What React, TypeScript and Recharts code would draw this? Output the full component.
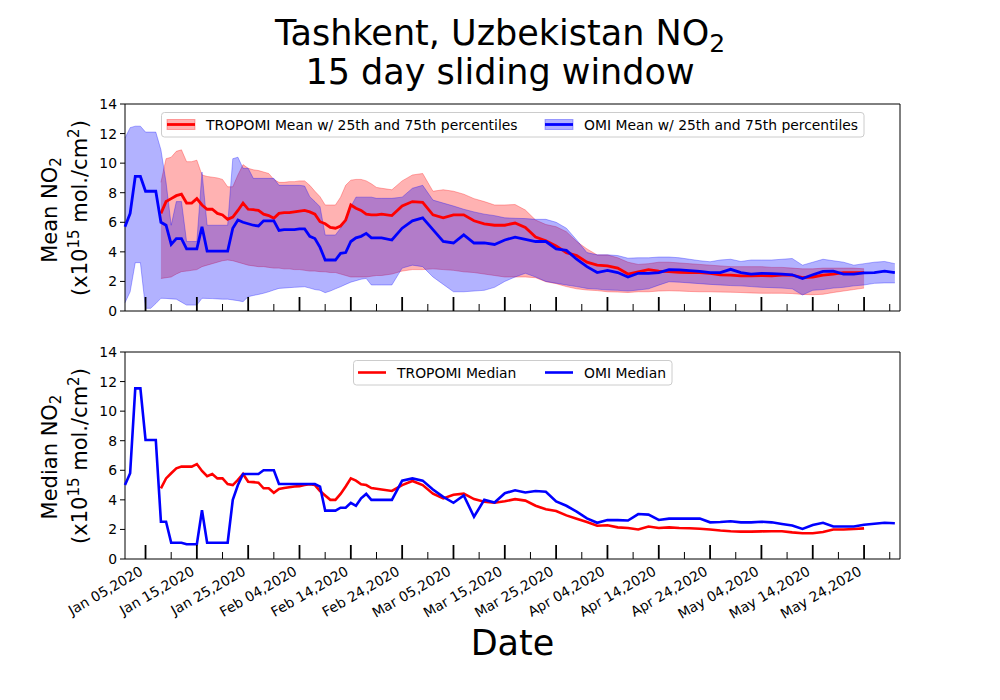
import React from 'react'
import { ComposedChart, Area, Line, XAxis, YAxis, ReferenceArea } from 'recharts'

const FONT = "'DejaVu Sans', sans-serif"

// day index, 0 = Jan 01 2020 (daily up to day 50, then every second day)
const days = [
  0, 1, 2, 3, 4, 5, 6, 7, 8, 9, 10, 11, 12, 13, 14, 15, 16, 17, 18, 19, 20, 21, 22, 23, 24, 25,
  26, 27, 28, 29, 30, 31, 32, 33, 34, 35, 36, 37, 38, 39, 40, 41, 42, 43, 44, 45, 46, 47, 48, 49, 50,
  52, 54, 56, 58, 60, 62, 64, 66, 68, 70, 72, 74, 76, 78, 80, 82, 84, 86, 88, 90, 92, 94, 96, 98,
  100, 102, 104, 106, 108, 110, 112, 114, 116, 118, 120, 122, 124, 126, 128, 130, 132, 134, 136,
  138, 140, 142, 144, 146, 148, 150,
]

const majorDays = [4, 14, 24, 34, 44, 54, 64, 74, 84, 94, 104, 114, 124, 134, 144]
const minorDays = [9, 19, 29, 39, 49, 59, 69, 79, 89, 99, 109, 119, 129, 139, 149]
const tickLabels = [
  'Jan 05,2020', 'Jan 15,2020', 'Jan 25,2020', 'Feb 04,2020', 'Feb 14,2020', 'Feb 24,2020',
  'Mar 05,2020', 'Mar 15,2020', 'Mar 25,2020', 'Apr 04,2020', 'Apr 14,2020', 'Apr 24,2020',
  'May 04,2020', 'May 14,2020', 'May 24,2020',
]
const yTicks = [0, 2, 4, 6, 8, 10, 12, 14]

const _ = null

const omiMean = [
  5.7, 6.6, 9.1, 9.1, 8.1, 8.1, 8.1, 6.0, 5.8, 4.5,
  4.9, 4.9, 4.2, 4.2, 4.2, 5.7, 4.05, 4.05, 4.05, 4.05,
  4.05, 5.6, 6.15, 6.0, 5.9, 5.8, 5.75, 6.1, 6.1, 6.1,
  5.45, 5.5, 5.5, 5.5, 5.55, 5.55, 5.05, 4.9, 4.3, 3.45,
  3.45, 3.45, 3.9, 3.95, 4.7, 4.95, 5.05, 5.25, 4.95, 4.95, 4.95,
  4.8, 5.6, 6.1, 6.3, 5.5, 4.7, 4.6, 5.15, 4.6, 4.6,
  4.5, 4.8, 5.0, 4.85, 4.7, 4.7, 4.2, 4.1, 3.5, 3.0,
  2.6, 2.75, 2.6, 2.3, 2.55, 2.55, 2.6, 2.8, 2.78, 2.73,
  2.68, 2.6, 2.6, 2.82, 2.6, 2.5, 2.55, 2.53, 2.5, 2.45,
  2.2, 2.45, 2.68, 2.7, 2.5, 2.5, 2.58, 2.6, 2.7, 2.6,
]
const omiLow = [
  0.56, 1.3, 3.27, 3.27, 0.18, 0.18, 0.5, 0.86, 0.85, 0.82,
  0.8, 0.6, 0.4, 0.4, 0.4, 0.86, 0.85, 0.84, 0.82, 0.8,
  0.8, 0.75, 0.7, 0.63, 0.97, 1.05, 1.12, 1.2, 1.3, 1.42,
  1.53, 1.55, 1.58, 1.6, 1.62, 1.64, 1.55, 1.45, 1.4, 1.24,
  1.35, 1.5, 1.64, 1.8, 1.95, 2.05, 2.15, 2.2, 1.76, 1.76, 1.76,
  1.76, 2.9, 3.1, 3.0, 2.3, 1.8, 1.3, 1.3, 1.35, 1.4,
  1.6, 2.0, 2.3, 2.55, 2.3, 2.0, 1.88, 1.76, 1.65, 1.53,
  1.48, 1.42, 1.4, 1.35, 1.42, 1.5, 1.75, 1.98, 1.95, 1.9,
  1.85, 1.8, 1.76, 1.72, 1.7, 1.65, 1.6, 1.58, 1.55, 1.5,
  1.08, 1.4, 1.45, 1.55, 1.6, 1.7, 1.76, 1.87, 1.9, 1.9,
]
const omiHigh = [
  11.7, 12.4, 12.5, 12.5, 12.1, 12.1, 12.1, 10.9, 8.7, 5.8,
  7.4, 7.4, 4.7, 4.7, 4.7, 9.4, 5.8, 5.8, 5.8, 5.8,
  5.8, 10.3, 10.4, 9.65, 9.65, 8.97, 8.97, 8.97, 8.97, 8.97,
  8.5, 8.5, 8.5, 8.5, 8.5, 8.45, 7.73, 7.4, 7.05, 5.14,
  5.14, 5.14, 5.6, 6.3, 7.05, 7.7, 7.7, 7.7, 7.7, 7.62, 7.62,
  7.62, 7.7, 8.3, 8.5, 7.5, 7.3, 7.1, 6.88, 6.7, 6.55,
  6.45, 6.3, 6.27, 6.25, 6.2, 6.2, 6.0, 5.6, 4.8, 3.95,
  3.8, 3.8, 3.75, 3.57, 3.6, 3.6, 3.65, 3.65, 3.6, 3.5,
  3.4, 3.33, 3.45, 3.5, 3.35, 3.45, 3.45, 3.45, 3.5, 3.55,
  3.1, 3.3, 3.5, 3.4, 3.3, 3.1, 3.2, 3.3, 3.35, 3.2,
]

const tropMean = [
  _, _, _, _, _, _, _, 6.6, 7.4, 7.6,
  7.8, 7.9, 7.3, 7.3, 7.6, 7.17, 6.88, 6.88, 6.6, 6.5,
  6.2, 6.35, 6.8, 7.3, 6.88, 6.85, 6.8, 6.55, 6.45, 6.27,
  6.6, 6.65, 6.65, 6.7, 6.75, 6.8, 6.7, 6.55, 6.04, 5.9,
  5.65, 5.6, 5.75, 6.15, 7.17, 6.95, 6.8, 6.55, 6.5, 6.5, 6.55,
  6.45, 7.1, 7.4, 7.35, 6.5, 6.3, 6.5, 6.5, 6.1, 5.9,
  5.8, 5.8, 5.95, 5.65, 5.0, 4.75, 4.4, 3.95, 3.75, 3.3,
  3.1, 3.05, 2.9, 2.5, 2.65, 2.8, 2.7, 2.66, 2.62, 2.6,
  2.6, 2.55, 2.45, 2.43, 2.37, 2.37, 2.4, 2.37, 2.43, 2.43,
  2.26, 2.3, 2.43, 2.5, 2.6, 2.6, 2.6, _, _, _,
]
const tropLow = [
  _, _, _, _, _, _, _, 2.2, 2.25, 2.3,
  2.5, 2.66, 2.7, 2.75, 2.8, 3.0, 3.1, 3.2, 3.3, 3.4,
  3.45, 3.4, 3.3, 3.2, 3.1, 3.05, 3.0, 3.0, 2.95, 2.9,
  2.9, 2.85, 2.85, 2.8, 2.8, 2.75, 2.7, 2.7, 2.66, 2.65,
  2.6, 2.6, 2.5, 2.4, 2.3, 2.3, 2.3, 2.3, 2.35, 2.4, 2.4,
  2.5, 2.7, 2.8, 2.8, 2.85, 2.8, 2.75, 2.65, 2.6, 2.5,
  2.4, 2.3, 2.3, 2.3, 2.25, 1.98, 1.85, 1.65, 1.5, 1.42,
  1.38, 1.3, 1.28, 1.25, 1.3, 1.3, 1.35, 1.37, 1.35, 1.32,
  1.3, 1.3, 1.28, 1.27, 1.25, 1.22, 1.2, 1.2, 1.2, 1.18,
  1.12, 1.1, 1.13, 1.25, 1.35, 1.45, 1.55, _, _, _,
]
const tropHigh = [
  _, _, _, _, _, _, _, 8.7, 10.3, 10.4,
  10.8, 10.9, 10.1, 10.1, 10.2, 9.2, 9.1, 9.05, 9.0, 8.9,
  8.4, 8.4, 9.2, 9.9, 9.65, 9.55, 9.5, 9.4, 9.3, 8.9,
  8.7, 8.7, 8.75, 8.75, 8.8, 8.8, 8.5, 8.1, 7.73, 7.17,
  7.17, 7.17, 7.7, 8.5, 8.85, 8.9, 8.9, 8.8, 8.6, 8.36, 8.3,
  8.2, 8.8, 9.2, 9.3, 8.1, 8.2, 8.1, 7.9, 7.6, 7.4,
  7.17, 7.17, 7.2, 6.83, 6.15, 5.85, 5.7, 5.36, 4.7, 4.2,
  3.79, 3.79, 3.6, 3.3, 3.15, 3.2, 3.3, 3.3, 3.25, 3.2,
  3.15, 3.1, 3.05, 3.0, 3.0, 3.0, 3.0, 2.95, 2.95, 2.9,
  2.85, 2.85, 2.9, 2.9, 2.9, 2.9, 2.85, _, _, _,
]

const tropMedian = [
  _, _, _, _, _, _, _, 4.78, 5.45, 5.8,
  6.13, 6.25, 6.25, 6.25, 6.42, 5.95, 5.6, 5.75, 5.45, 5.45,
  5.07, 5.0, 5.35, 5.75, 5.23, 5.2, 5.16, 4.78, 4.78, 4.48,
  4.73, 4.8, 4.85, 4.9, 4.93, 5.0, 5.05, 5.0, 4.6, 4.3,
  4.0, 4.0, 4.4, 4.9, 5.45, 5.3, 5.05, 5.0, 4.8, 4.75, 4.7,
  4.6, 5.0, 5.28, 5.0, 4.42, 4.1, 4.35, 4.42, 4.05, 3.87,
  3.8, 3.9, 4.05, 3.95, 3.6, 3.36, 3.25, 2.95, 2.72, 2.5,
  2.25, 2.28, 2.14, 2.1, 2.0, 2.2, 2.1, 2.14, 2.1, 2.08,
  2.05, 2.0, 1.93, 1.88, 1.85, 1.85, 1.87, 1.88, 1.88, 1.8,
  1.74, 1.74, 1.82, 2.0, 2.0, 2.03, 2.07, _, _, _,
]
const omiMedian = [
  5.0, 5.8, 11.54, 11.54, 8.05, 8.05, 8.05, 2.52, 2.52, 1.1,
  1.1, 1.1, 1.0, 1.0, 1.0, 3.3, 1.1, 1.1, 1.1, 1.1,
  1.1, 4.0, 5.0, 5.75, 5.75, 5.75, 5.75, 6.0, 6.0, 6.0,
  5.07, 5.07, 5.07, 5.07, 5.07, 5.07, 5.07, 5.07, 4.9, 3.27,
  3.27, 3.27, 3.47, 3.47, 3.8, 3.6, 4.1, 4.4, 4.0, 4.0, 4.0,
  4.0, 5.3, 5.45, 5.3, 4.7, 4.2, 3.8, 4.3, 2.86, 4.0,
  3.82, 4.45, 4.65, 4.5, 4.6, 4.55, 3.9, 3.6, 3.2, 2.75,
  2.45, 2.63, 2.63, 2.6, 3.04, 3.0, 2.64, 2.73, 2.73, 2.73,
  2.73, 2.48, 2.5, 2.55, 2.48, 2.48, 2.52, 2.48, 2.37, 2.27,
  2.03, 2.3, 2.45, 2.2, 2.2, 2.2, 2.32, 2.38, 2.45, 2.42,
]

const meanData = days.map((d, i) => ({
  d,
  tropBand: tropLow[i] == null ? null : [tropLow[i], tropHigh[i]],
  omiBand: [omiLow[i], omiHigh[i]],
  tropMean: tropMean[i],
  omiMean: omiMean[i],
}))

const medianData = days.map((d, i) => ({
  d,
  tropMedian: tropMedian[i],
  omiMedian: omiMedian[i],
}))

const xTicks = [...majorDays, ...minorDays].sort((a, b) => a - b)

// matplotlib style: x ticks point into the plot, labels rotated 30deg
function XTick(props: any) {
  const { x, y, payload, showLabel } = props
  const idx = majorDays.indexOf(payload.value)
  const major = idx >= 0
  const ax = x - 1.5
  const ay = y + 15
  return (
    <g>
      <line
        x1={x}
        x2={x}
        y1={y}
        y2={y - (major ? 14 : 7)}
        stroke="#000"
        strokeWidth={major ? 1.8 : 1}
      />
      {showLabel && major && (
        <text
          x={ax}
          y={ay}
          textAnchor="end"
          transform={`rotate(-30 ${ax} ${ay})`}
          fontSize={13.9}
          fontFamily={FONT}
          fill="#000"
        >
          {tickLabels[idx]}
        </text>
      )}
    </g>
  )
}

const yAxisProps = {
  type: 'number' as const,
  domain: [0, 14],
  ticks: yTicks,
  interval: 0 as const,
  width: 40,
  axisLine: false,
  tickSize: 5,
  tickMargin: 3,
  tickLine: { stroke: '#000' },
  tick: { fill: '#000', fontSize: 13.9, fontFamily: FONT },
}

function UnitLabel({ x, y }: { x: number; y: number }) {
  const sup = { fontSize: 15 }
  return (
    <text x={x} y={y} transform={`rotate(-90 ${x} ${y})`} textAnchor="middle" fontSize={21}>
      (x10<tspan dy={-8} {...sup}>15</tspan>
      <tspan dy={8}> mol./cm</tspan>
      <tspan dy={-8} {...sup}>2</tspan>
      <tspan dy={8}>)</tspan>
    </text>
  )
}

function Overlay() {
  const sub = { fontSize: 15 }
  return (
    <svg
      width={1000}
      height={700}
      style={{ position: 'absolute', left: 0, top: 0, pointerEvents: 'none' }}
      fontFamily={FONT}
    >
      <text x={500} y={45} textAnchor="middle" fontSize={35}>
        Tashkent, Uzbekistan NO<tspan fontSize={25} dy={7}>2</tspan>
      </text>
      <text x={500} y={84} textAnchor="middle" fontSize={35}>
        15 day sliding window
      </text>

      <text x={57} y={210} transform="rotate(-90 57 210)" textAnchor="middle" fontSize={21}>
        Mean NO<tspan dy={4} {...sub}>2</tspan>
      </text>
      <UnitLabel x={87} y={208} />
      <text x={57} y={457} transform="rotate(-90 57 457)" textAnchor="middle" fontSize={21}>
        Median NO<tspan dy={4} {...sub}>2</tspan>
      </text>
      <UnitLabel x={87} y={456} />

      <text x={512.5} y={655} textAnchor="middle" fontSize={35}>
        Date
      </text>

      {/* mean panel legend */}
      <rect x={161.5} y={112.5} width={702.5} height={24.5} rx={3} fill="#fff" fillOpacity={0.8} stroke="#cccccc" />
      <rect x={167} y={119.5} width={28} height={10} fill="red" fillOpacity={0.3} stroke="red" strokeOpacity={0.3} />
      <line x1={167} x2={195} y1={124.5} y2={124.5} stroke="red" strokeWidth={2.8} />
      <text x={206} y={129.5} fontSize={13.9}>TROPOMI Mean w/ 25th and 75th percentiles</text>
      <rect x={545} y={119.5} width={28} height={10} fill="blue" fillOpacity={0.3} stroke="blue" strokeOpacity={0.3} />
      <line x1={545} x2={573} y1={124.5} y2={124.5} stroke="blue" strokeWidth={2.8} />
      <text x={584} y={129.5} fontSize={13.9}>OMI Mean w/ 25th and 75th percentiles</text>

      {/* median panel legend */}
      <rect x={353.5} y={360.5} width={318.5} height={24.5} rx={3} fill="#fff" fillOpacity={0.8} stroke="#cccccc" />
      <line x1={358} x2={386} y1={372.5} y2={372.5} stroke="red" strokeWidth={2.6} />
      <text x={397} y={377.5} fontSize={13.9}>TROPOMI Median</text>
      <line x1={545} x2={573} y1={372.5} y2={372.5} stroke="blue" strokeWidth={2.6} />
      <text x={584} y={377.5} fontSize={13.9}>OMI Median</text>
    </svg>
  )
}

export default function App() {
  return (
    <div style={{ position: 'absolute', left: 0, top: 0, width: 1000, height: 700, background: '#fff' }}>
      <div style={{ position: 'absolute', left: 0, top: 0 }}>
        <ComposedChart width={1000} height={330} data={meanData} margin={{ top: 104, right: 100, bottom: 0, left: 85 }}>
          <XAxis
            dataKey="d"
            type="number"
            domain={[0, 151]}
            ticks={xTicks}
            interval={0}
            height={19}
            axisLine={false}
            tickLine={false}
            tickSize={0}
            tickMargin={0}
            tick={(p: any) => <XTick {...p} showLabel={false} />}
          />
          <YAxis {...yAxisProps} />
          <Area
            type="linear"
            dataKey="tropBand"
            fill="red"
            fillOpacity={0.3}
            stroke="red"
            strokeOpacity={0.3}
            strokeWidth={1}
            isAnimationActive={false}
            activeDot={false}
          />
          <Area
            type="linear"
            dataKey="omiBand"
            fill="blue"
            fillOpacity={0.3}
            stroke="blue"
            strokeOpacity={0.3}
            strokeWidth={1}
            isAnimationActive={false}
            activeDot={false}
          />
          <Line type="linear" dataKey="tropMean" stroke="red" strokeWidth={2.8} dot={false} isAnimationActive={false} />
          <Line type="linear" dataKey="omiMean" stroke="blue" strokeWidth={2.8} dot={false} isAnimationActive={false} />
          <ReferenceArea x1={0} x2={151} y1={0} y2={14} fill="none" stroke="#000" strokeWidth={1} />
        </ComposedChart>
      </div>
      <div style={{ position: 'absolute', left: 0, top: 340 }}>
        <ComposedChart width={1000} height={360} data={medianData} margin={{ top: 12, right: 100, bottom: 0, left: 85 }}>
          <XAxis
            dataKey="d"
            type="number"
            domain={[0, 151]}
            ticks={xTicks}
            interval={0}
            height={141}
            axisLine={false}
            tickLine={false}
            tickSize={0}
            tickMargin={0}
            tick={(p: any) => <XTick {...p} showLabel />}
          />
          <YAxis {...yAxisProps} />
          <Line type="linear" dataKey="tropMedian" stroke="red" strokeWidth={2.6} dot={false} isAnimationActive={false} />
          <Line type="linear" dataKey="omiMedian" stroke="blue" strokeWidth={2.6} dot={false} isAnimationActive={false} />
          <ReferenceArea x1={0} x2={151} y1={0} y2={14} fill="none" stroke="#000" strokeWidth={1} />
        </ComposedChart>
      </div>
      <Overlay />
    </div>
  )
}
